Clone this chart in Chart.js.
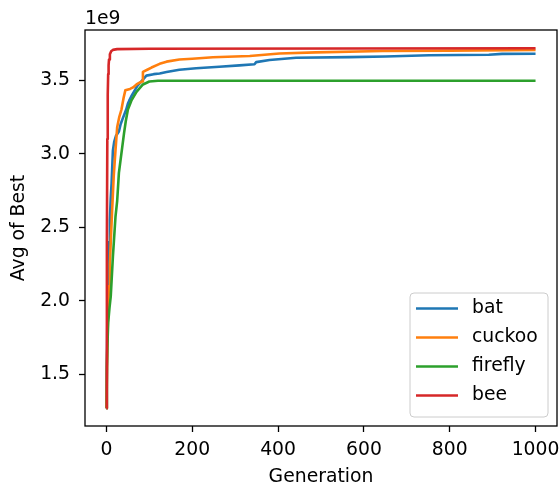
<!DOCTYPE html>
<html>
<head>
<meta charset="utf-8">
<script src="https://cdn.jsdelivr.net/npm/chart.js@4/dist/chart.umd.min.js"></script>
<style>
  html, body { margin: 0; padding: 0; background: #fff; }
  #wrap { width: 559px; height: 487px; position: relative; }
</style>
</head>
<body>
<div id="wrap"><canvas id="c" width="559" height="487"></canvas></div>
<script>
// ---- data (values in units of 1e9) ----
const SCALE = 1e9;
const seriesNames = ['bat', 'cuckoo', 'firefly', 'bee'];
const seriesColors = ['#1f77b4', '#ff7f0e', '#2ca02c', '#d62728'];

const batGen = [0, 2, 4, 6, 8, 10, 12, 15, 18, 22, 29, 33, 38, 42, 46, 50, 53, 58, 66, 72, 81, 87, 93, 110, 124, 140, 170, 209, 263, 310, 345, 349, 380, 442, 566, 650, 752, 891, 922, 1000];
const batVal = [1.27, 1.85, 2.2, 2.4, 2.55, 2.7, 2.8, 3.02, 3.08, 3.12, 3.15, 3.2, 3.24, 3.27, 3.30, 3.34, 3.36, 3.39, 3.43, 3.46, 3.49, 3.51, 3.53, 3.54, 3.545, 3.555, 3.57, 3.58, 3.59, 3.60, 3.607, 3.622, 3.636, 3.652, 3.656, 3.66, 3.668, 3.672, 3.678, 3.679];

const cuckooGen = [0, 2, 4, 6, 8, 10, 13, 17, 21, 25, 30, 35, 40, 44, 55, 62, 70, 76, 83, 85, 95, 105, 124, 140, 170, 200, 248, 334, 403, 488, 643, 800, 1000];
const cuckooVal = [1.27, 1.7, 1.95, 2.1, 2.25, 2.4, 2.6, 2.85, 3.02, 3.18, 3.25, 3.30, 3.38, 3.43, 3.44, 3.45, 3.47, 3.48, 3.49, 3.555, 3.57, 3.585, 3.61, 3.625, 3.64, 3.645, 3.655, 3.663, 3.68, 3.688, 3.697, 3.70, 3.704];

const fireflyGen = [0, 1, 2, 4, 7, 10, 15, 21, 25, 29, 33, 37, 41, 45, 50, 58, 70, 85, 100, 120, 1000];
const fireflyVal = [1.27, 1.55, 1.68, 1.85, 1.95, 2.03, 2.3, 2.57, 2.68, 2.87, 2.96, 3.05, 3.14, 3.22, 3.30, 3.36, 3.42, 3.47, 3.49, 3.495, 3.495];

const beeGen = [0, 1, 2, 3, 4, 5, 6, 8, 11, 15, 25, 100, 1000];
const beeVal = [1.27, 2.4, 3.1, 3.4, 3.54, 3.6, 3.64, 3.675, 3.695, 3.705, 3.71, 3.713, 3.716];

const xTicks = [0, 200, 400, 600, 800, 1000];
const yTicks = [1.5, 2.0, 2.5, 3.0, 3.5];

const gens = [batGen, cuckooGen, fireflyGen, beeGen];
const vals = [batVal, cuckooVal, fireflyVal, beeVal];

const FONT = 'DejaVu Sans';
const FS = 18.8;
const LW = 2.6;

const datasets = seriesNames.map((name, i) => ({
  label: name,
  data: gens[i].map((g, k) => ({ x: g, y: vals[i][k] * SCALE })),
  borderColor: seriesColors[i],
  backgroundColor: seriesColors[i],
  borderWidth: LW,
  pointRadius: 0,
  tension: 0,
  fill: false,
  borderJoinStyle: 'round',
  order: seriesNames.length - i
}));

const framePlugin = {
  id: 'frame',
  afterDraw(chart) {
    const { ctx, chartArea: a } = chart;
    ctx.save();
    ctx.strokeStyle = '#000';
    ctx.lineWidth = 1.3;
    ctx.strokeRect(a.left, a.top, a.right - a.left, a.bottom - a.top);
    // offset label
    ctx.fillStyle = '#000';
    ctx.font = FS + 'px "' + FONT + '"';
    ctx.textAlign = 'left';
    ctx.textBaseline = 'alphabetic';
    ctx.fillText('1e9', a.left, a.top - 6);
    // legend
    const bx = 410, by = 293, bw = 138, bh = 124, r = 4;
    ctx.globalAlpha = 0.8;
    ctx.fillStyle = '#fff';
    ctx.beginPath();
    ctx.roundRect(bx, by, bw, bh, r);
    ctx.fill();
    ctx.globalAlpha = 1;
    ctx.strokeStyle = '#cccccc';
    ctx.lineWidth = 1;
    ctx.stroke();
    const rowY0 = 308.5, rowStep = 29;
    chart.data.datasets.forEach((ds, i) => {
      const y = rowY0 + i * rowStep;
      ctx.strokeStyle = ds.borderColor;
      ctx.lineWidth = LW;
      ctx.beginPath();
      ctx.moveTo(416, y);
      ctx.lineTo(458, y);
      ctx.stroke();
      ctx.fillStyle = '#000';
      ctx.textBaseline = 'middle';
      ctx.fillText(ds.label, 472, y);
    });
    ctx.restore();
  }
};

new Chart(document.getElementById('c'), {
  type: 'line',
  data: { datasets },
  plugins: [framePlugin],
  options: {
    responsive: false,
    animation: false,
    events: [],
    layout: { padding: { top: 30, right: 2, left: 0, bottom: 0 } },
    plugins: { legend: { display: false }, tooltip: { enabled: false } },
    scales: {
      x: {
        type: 'linear',
        min: -50,
        max: 1050,
        afterBuildTicks(s) { s.ticks = xTicks.map(v => ({ value: v })); },
        afterFit(s) { s.height = 61; s.paddingLeft = 0; s.paddingRight = 0; },
        border: { display: false },
        grid: { drawOnChartArea: false, drawTicks: true, tickLength: 6, color: '#000', tickWidth: 1.3 },
        ticks: { color: '#000', font: { family: FONT, size: FS }, padding: 7, maxRotation: 0, autoSkip: false,
          callback: v => String(v) },
        title: { display: true, text: 'Generation', color: '#000', font: { family: FONT, size: FS, lineHeight: 1 }, padding: 0 }
      },
      y: {
        type: 'linear',
        min: 1.150 * SCALE,
        max: 3.840 * SCALE,
        afterBuildTicks(s) { s.ticks = yTicks.map(v => ({ value: v * SCALE })); },
        afterFit(s) { s.width = 85; s.paddingTop = 0; s.paddingBottom = 0; },
        border: { display: false },
        grid: { drawOnChartArea: false, drawTicks: true, tickLength: 6, color: '#000', tickWidth: 1.3 },
        ticks: { color: '#000', font: { family: FONT, size: FS }, padding: 9, autoSkip: false,
          callback: v => (v / SCALE).toFixed(1) },
        title: { display: true, text: 'Avg of Best', color: '#000', font: { family: FONT, size: FS, lineHeight: 1 }, padding: { top: 10, bottom: 0 } }
      }
    }
  }
});
</script>
</body>
</html>
